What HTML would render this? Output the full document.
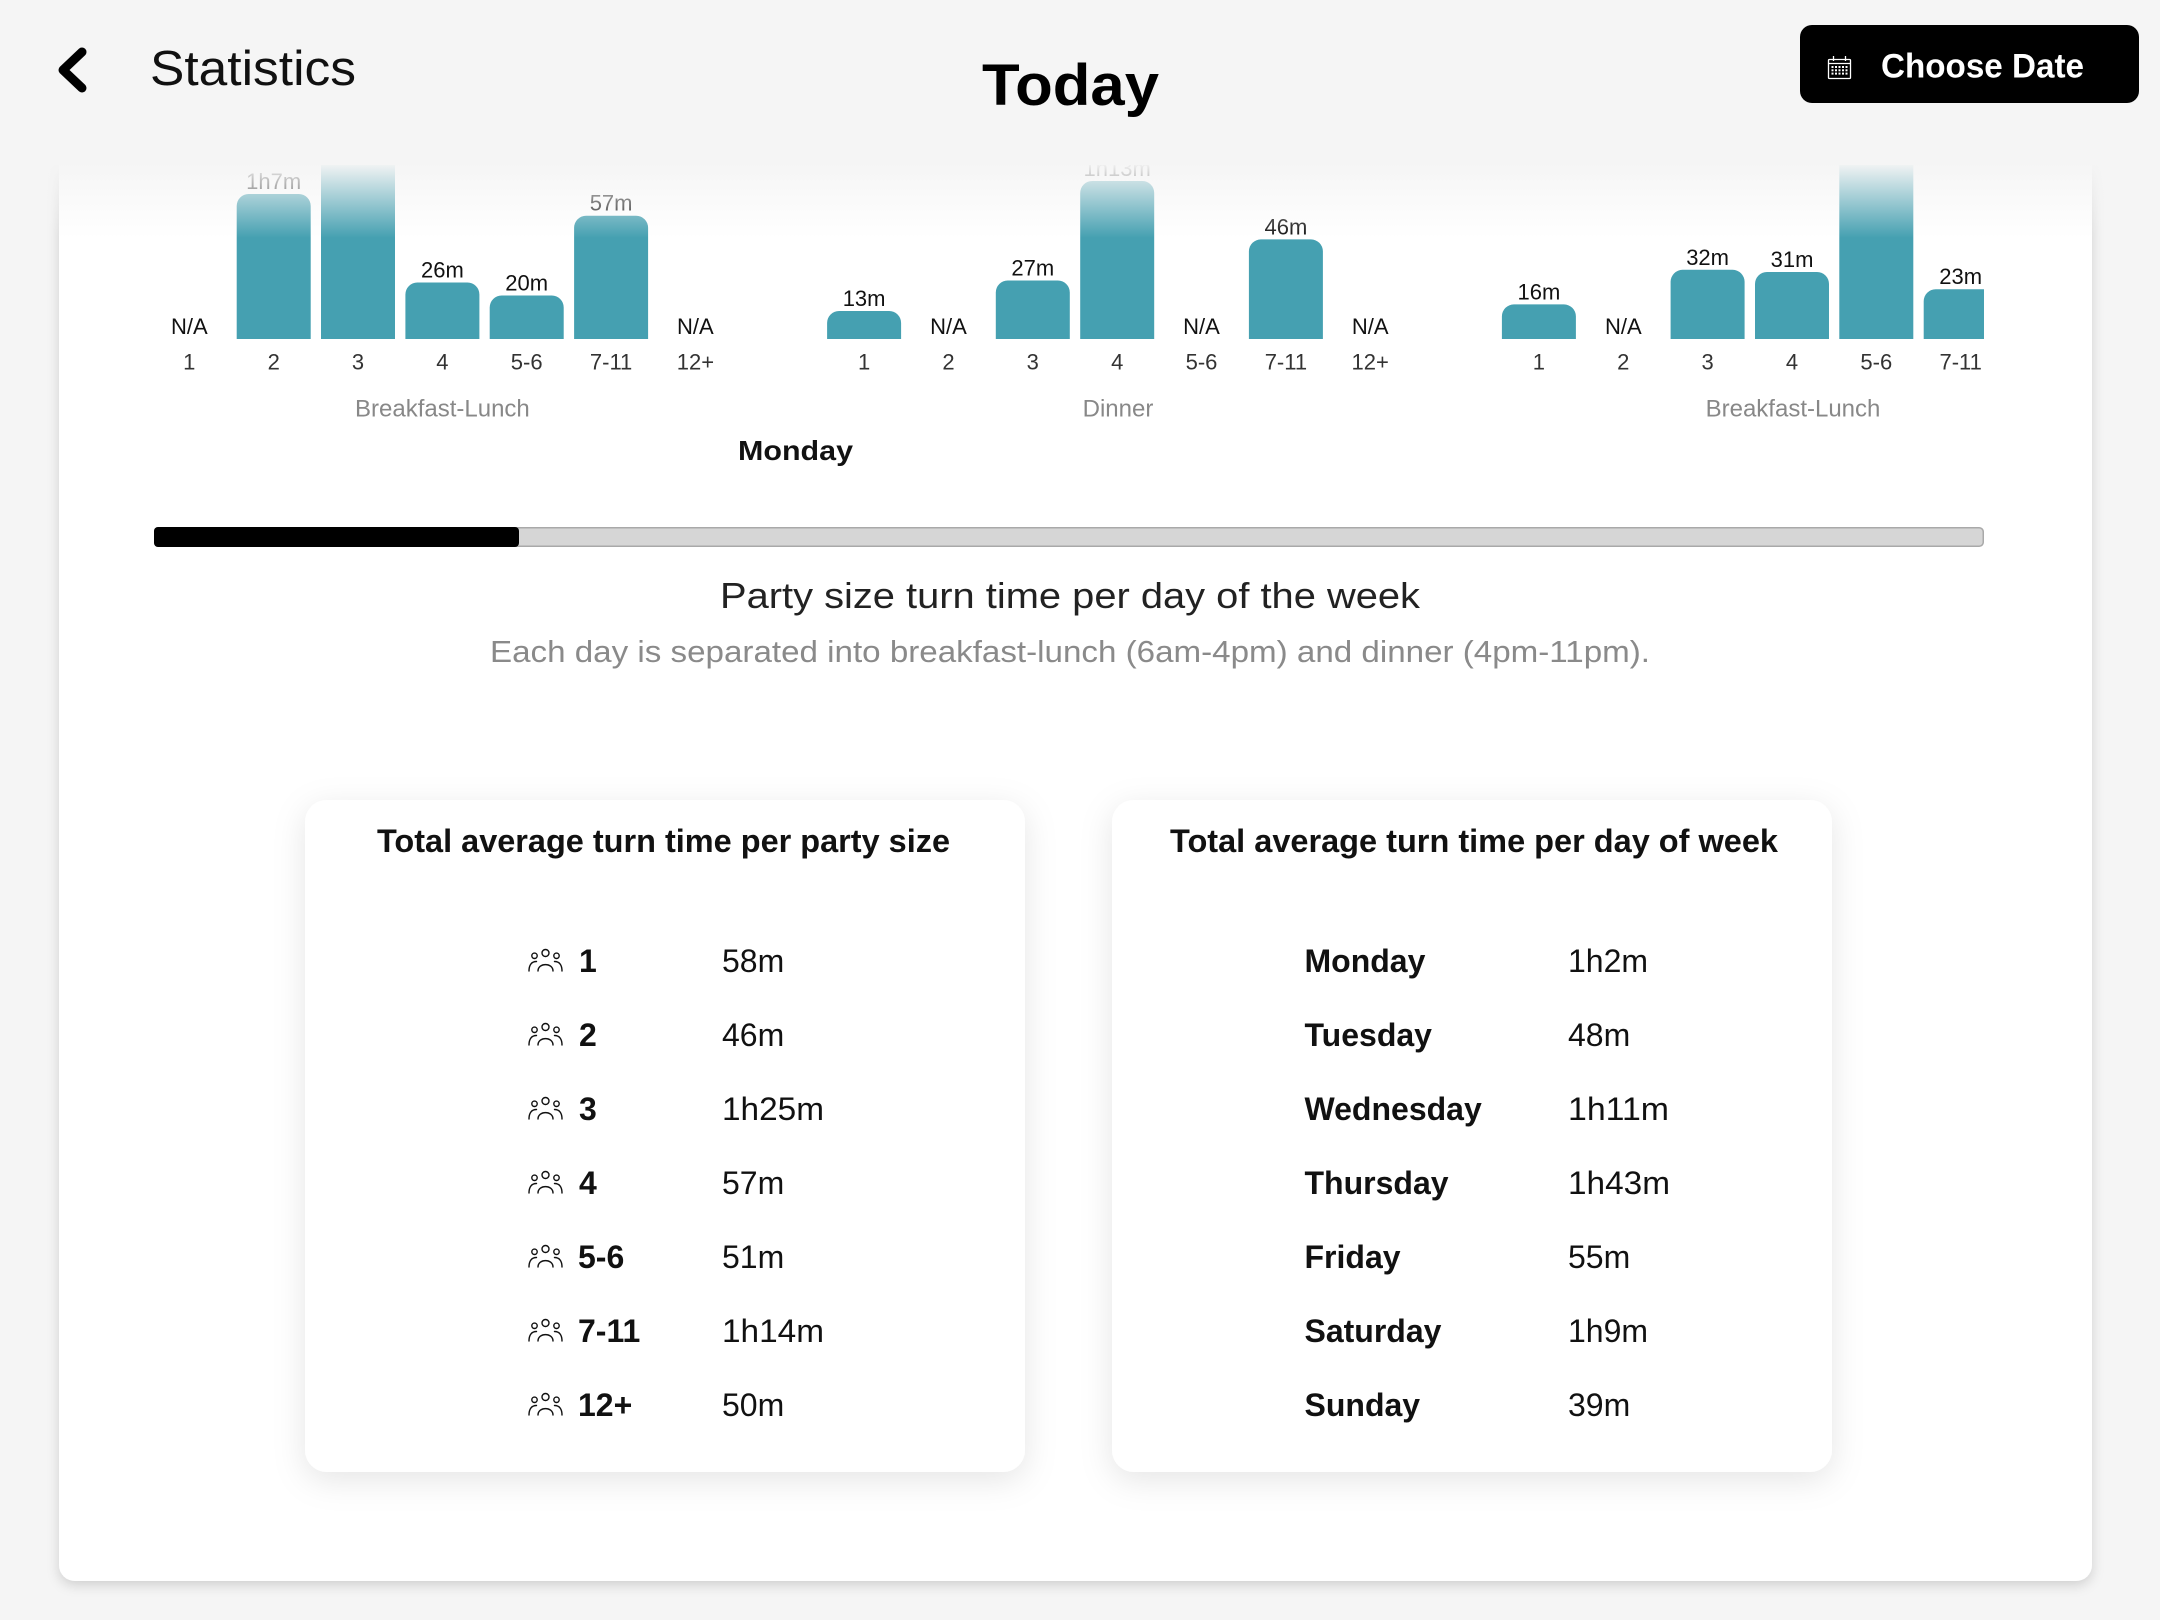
<!DOCTYPE html>
<html>
<head>
<meta charset="utf-8">
<style>
  html, body { margin: 0; padding: 0; background: #f5f5f5; }
  svg { display: block; }
  text { font-family: "Liberation Sans", Arial, sans-serif; }
</style>
</head>
<body>
<svg width="2160" height="1620" viewBox="0 0 2160 1620" xmlns="http://www.w3.org/2000/svg">
  <defs>
    <filter id="cardShadow" x="-5%" y="-5%" width="110%" height="110%">
      <feDropShadow dx="0" dy="4" stdDeviation="6" flood-color="#000" flood-opacity="0.16"/>
    </filter>
    <filter id="tblShadow" x="-15%" y="-15%" width="130%" height="130%">
      <feDropShadow dx="0" dy="8" stdDeviation="16" flood-color="#000" flood-opacity="0.10"/>
    </filter>
    <clipPath id="chartClip">
      <rect x="154" y="0" width="1830" height="600"/>
    </clipPath>
    <linearGradient id="fade" x1="0" y1="0" x2="0" y2="1">
      <stop offset="0" stop-color="#f5f5f5" stop-opacity="0.97"/>
      <stop offset="1" stop-color="#f5f5f5" stop-opacity="0"/>
    </linearGradient>
  </defs>

  <!-- background -->
  <rect x="0" y="0" width="2160" height="1620" fill="#f5f5f5"/>

  <!-- main card -->
  <rect x="59" y="130" width="2033" height="1451" rx="16" fill="#ffffff" filter="url(#cardShadow)"/>

  <!-- bar chart -->
  <g clip-path="url(#chartClip)">
    <g fill="#45a0b1">
      <path d="M236.7 339 V206 A12 12 0 0 1 248.7 194 H298.7 A12 12 0 0 1 310.7 206 V339 Z"/>
      <rect x="321" y="100" width="74" height="239"/>
      <path d="M405.4 339 V294.5 A12 12 0 0 1 417.4 282.5 H467.4 A12 12 0 0 1 479.4 294.5 V339 Z"/>
      <path d="M489.7 339 V307.5 A12 12 0 0 1 501.7 295.5 H551.7 A12 12 0 0 1 563.7 307.5 V339 Z"/>
      <path d="M574.1 339 V227.7 A12 12 0 0 1 586.1 215.7 H636.1 A12 12 0 0 1 648.1 227.7 V339 Z"/>

      <path d="M827.1 339 V323 A12 12 0 0 1 839.1 311 H889.1 A12 12 0 0 1 901.1 323 V339 Z"/>
      <path d="M995.8 339 V292.5 A12 12 0 0 1 1007.8 280.5 H1057.8 A12 12 0 0 1 1069.8 292.5 V339 Z"/>
      <path d="M1080.2 339 V193 A12 12 0 0 1 1092.2 181 H1142.2 A12 12 0 0 1 1154.2 193 V339 Z"/>
      <path d="M1248.9 339 V251.4 A12 12 0 0 1 1260.9 239.4 H1310.9 A12 12 0 0 1 1322.9 251.4 V339 Z"/>

      <path d="M1501.9 339 V316.4 A12 12 0 0 1 1513.9 304.4 H1563.9 A12 12 0 0 1 1575.9 316.4 V339 Z"/>
      <path d="M1670.6 339 V281.8 A12 12 0 0 1 1682.6 269.8 H1732.6 A12 12 0 0 1 1744.6 281.8 V339 Z"/>
      <path d="M1755 339 V284 A12 12 0 0 1 1767 272 H1817 A12 12 0 0 1 1829 284 V339 Z"/>
      <rect x="1839.3" y="100" width="74" height="239"/>
      <path d="M1923.7 339 V301.2 A12 12 0 0 1 1935.7 289.2 H1985.7 A12 12 0 0 1 1997.7 301.2 V339 Z"/>
    </g>

    <!-- value labels -->
    <g font-size="22" fill="#111" text-anchor="middle">
      <text x="273.7" y="189">1h7m</text>
      <text x="442.4" y="277.5">26m</text>
      <text x="526.7" y="290.5">20m</text>
      <text x="611.1" y="210.7">57m</text>
      <text x="864.1" y="306">13m</text>
      <text x="1032.8" y="275.5">27m</text>
      <text x="1117.2" y="176">1h13m</text>
      <text x="1285.9" y="234.4">46m</text>
      <text x="1538.9" y="299.4">16m</text>
      <text x="1707.6" y="264.8">32m</text>
      <text x="1792" y="267">31m</text>
      <text x="1960.7" y="284.2">23m</text>
    </g>
    <!-- N/A labels -->
    <g font-size="22" fill="#111" text-anchor="middle">
      <text x="189.3" y="334">N/A</text>
      <text x="695.4" y="334">N/A</text>
      <text x="948.5" y="334">N/A</text>
      <text x="1201.5" y="334">N/A</text>
      <text x="1370.2" y="334">N/A</text>
      <text x="1623.3" y="334">N/A</text>
    </g>
    <!-- tick labels -->
    <g font-size="22" fill="#333" text-anchor="middle">
      <text x="189.3" y="369.5">1</text>
      <text x="273.7" y="369.5">2</text>
      <text x="358" y="369.5">3</text>
      <text x="442.4" y="369.5">4</text>
      <text x="526.7" y="369.5">5-6</text>
      <text x="611.1" y="369.5">7-11</text>
      <text x="695.4" y="369.5">12+</text>

      <text x="864.1" y="369.5">1</text>
      <text x="948.5" y="369.5">2</text>
      <text x="1032.8" y="369.5">3</text>
      <text x="1117.2" y="369.5">4</text>
      <text x="1201.5" y="369.5">5-6</text>
      <text x="1285.9" y="369.5">7-11</text>
      <text x="1370.2" y="369.5">12+</text>

      <text x="1538.9" y="369.5">1</text>
      <text x="1623.3" y="369.5">2</text>
      <text x="1707.6" y="369.5">3</text>
      <text x="1792" y="369.5">4</text>
      <text x="1876.3" y="369.5">5-6</text>
      <text x="1960.7" y="369.5">7-11</text>
    </g>
    <!-- group labels -->
    <g font-size="24" fill="#888" text-anchor="middle">
      <text x="442.4" y="416.5">Breakfast-Lunch</text>
      <text x="1118" y="416.5">Dinner</text>
      <text x="1793" y="416.5">Breakfast-Lunch</text>
    </g>
    <text x="795.5" y="460" font-size="28" font-weight="bold" fill="#111" text-anchor="middle" textLength="115" lengthAdjust="spacingAndGlyphs">Monday</text>
  </g>

  <!-- scroll indicator -->
  <rect x="154.75" y="527.75" width="1828.5" height="18.5" rx="4" fill="#d6d6d6" stroke="#a9a9a9" stroke-width="1.5"/>
  <rect x="154" y="527" width="365" height="20" rx="4" fill="#000"/>

  <!-- section title -->
  <text x="720" y="608" font-size="36" fill="#222" textLength="700" lengthAdjust="spacingAndGlyphs">Party size turn time per day of the week</text>
  <text x="490" y="662" font-size="31" fill="#8a8a8a" textLength="1160" lengthAdjust="spacingAndGlyphs">Each day is separated into breakfast-lunch (6am-4pm) and dinner (4pm-11pm).</text>

  <!-- table cards -->
  <rect x="305" y="800" width="720" height="672" rx="22" fill="#fff" filter="url(#tblShadow)"/>
  <rect x="1112" y="800" width="720" height="672" rx="22" fill="#fff" filter="url(#tblShadow)"/>

  <text x="377" y="852" font-size="32" font-weight="bold" fill="#111" textLength="573" lengthAdjust="spacingAndGlyphs">Total average turn time per party size</text>
  <text x="1170" y="852" font-size="32" font-weight="bold" fill="#111" textLength="608" lengthAdjust="spacingAndGlyphs">Total average turn time per day of week</text>

  <!-- people icon symbol -->
  <defs>
    <g id="ppl" fill="none" stroke="#111" stroke-width="1.4" stroke-linecap="round">
      <circle cx="17.5" cy="4" r="3.5"/>
      <circle cx="6.5" cy="6.8" r="2.7"/>
      <circle cx="28.5" cy="6.8" r="2.7"/>
      <path d="M10 22 C10 13.5 25 13.5 25 22"/>
      <path d="M1 22 C1 16 3.5 12.5 8.5 12.5"/>
      <path d="M34 22 C34 16 31.5 12.5 26.5 12.5"/>
    </g>
  </defs>

  <g>
    <use href="#ppl" x="528" y="949"/>
    <use href="#ppl" x="528" y="1023"/>
    <use href="#ppl" x="528" y="1097"/>
    <use href="#ppl" x="528" y="1171"/>
    <use href="#ppl" x="528" y="1245"/>
    <use href="#ppl" x="528" y="1319"/>
    <use href="#ppl" x="528" y="1393"/>
  </g>
  <g font-size="32" font-weight="bold" fill="#111">
    <text x="579" y="972">1</text>
    <text x="579" y="1046">2</text>
    <text x="579" y="1120">3</text>
    <text x="579" y="1194">4</text>
    <text x="578" y="1268">5-6</text>
    <text x="578" y="1342">7-11</text>
    <text x="578" y="1416">12+</text>
  </g>
  <g font-size="32" fill="#111">
    <text x="722" y="972">58m</text>
    <text x="722" y="1046">46m</text>
    <text x="722" y="1120" textLength="102" lengthAdjust="spacingAndGlyphs">1h25m</text>
    <text x="722" y="1194">57m</text>
    <text x="722" y="1268">51m</text>
    <text x="722" y="1342" textLength="102" lengthAdjust="spacingAndGlyphs">1h14m</text>
    <text x="722" y="1416">50m</text>
  </g>

  <g font-size="32" font-weight="bold" fill="#111">
    <text x="1304.5" y="972">Monday</text>
    <text x="1304.5" y="1046">Tuesday</text>
    <text x="1304.5" y="1120">Wednesday</text>
    <text x="1304.5" y="1194">Thursday</text>
    <text x="1304.5" y="1268">Friday</text>
    <text x="1304.5" y="1342">Saturday</text>
    <text x="1304.5" y="1416">Sunday</text>
  </g>
  <g font-size="32" fill="#111">
    <text x="1568" y="972">1h2m</text>
    <text x="1568" y="1046">48m</text>
    <text x="1568" y="1120" textLength="101" lengthAdjust="spacingAndGlyphs">1h11m</text>
    <text x="1568" y="1194" textLength="102" lengthAdjust="spacingAndGlyphs">1h43m</text>
    <text x="1568" y="1268">55m</text>
    <text x="1568" y="1342">1h9m</text>
    <text x="1568" y="1416">39m</text>
  </g>

  <!-- header overlay -->
  <rect x="0" y="165" width="2160" height="73" fill="url(#fade)"/>
  <rect x="0" y="0" width="2160" height="165" fill="#f5f5f5"/>

  <!-- back chevron -->
  <path d="M82 52 L63 70 L82 88" fill="none" stroke="#000" stroke-width="9" stroke-linecap="round" stroke-linejoin="round"/>
  <text x="150" y="85" font-size="49" fill="#111" textLength="206" lengthAdjust="spacingAndGlyphs">Statistics</text>

  <!-- Today -->
  <text x="982" y="105" font-size="58" font-weight="bold" fill="#000" textLength="177" lengthAdjust="spacingAndGlyphs">Today</text>

  <!-- Choose Date button -->
  <rect x="1800" y="25" width="339" height="78" rx="12" fill="#000"/>
  <g stroke="#fff" stroke-width="1.3" fill="none">
    <rect x="1828.5" y="59.5" width="22" height="19" rx="1"/>
    <line x1="1828.5" y1="63.5" x2="1850.5" y2="63.5"/>
    <line x1="1833.5" y1="56" x2="1833.5" y2="61"/>
    <line x1="1845.5" y1="56" x2="1845.5" y2="61"/>
  </g>
  <g fill="#fff">
    <rect x="1831.5" y="66" width="2" height="2"/><rect x="1835" y="66" width="2" height="2"/><rect x="1838.5" y="66" width="2" height="2"/><rect x="1842" y="66" width="2" height="2"/><rect x="1845.5" y="66" width="2" height="2"/>
    <rect x="1831.5" y="69.3" width="2" height="2"/><rect x="1835" y="69.3" width="2" height="2"/><rect x="1838.5" y="69.3" width="2" height="2"/><rect x="1842" y="69.3" width="2" height="2"/><rect x="1845.5" y="69.3" width="2" height="2"/>
    <rect x="1831.5" y="72.6" width="2" height="2"/><rect x="1835" y="72.6" width="2" height="2"/><rect x="1838.5" y="72.6" width="2" height="2"/><rect x="1842" y="72.6" width="2" height="2"/><rect x="1845.5" y="72.6" width="2" height="2"/>
  </g>
  <text x="1881" y="77.5" font-size="34" font-weight="bold" fill="#fff" textLength="203" lengthAdjust="spacingAndGlyphs">Choose Date</text>
</svg>
</body>
</html>
